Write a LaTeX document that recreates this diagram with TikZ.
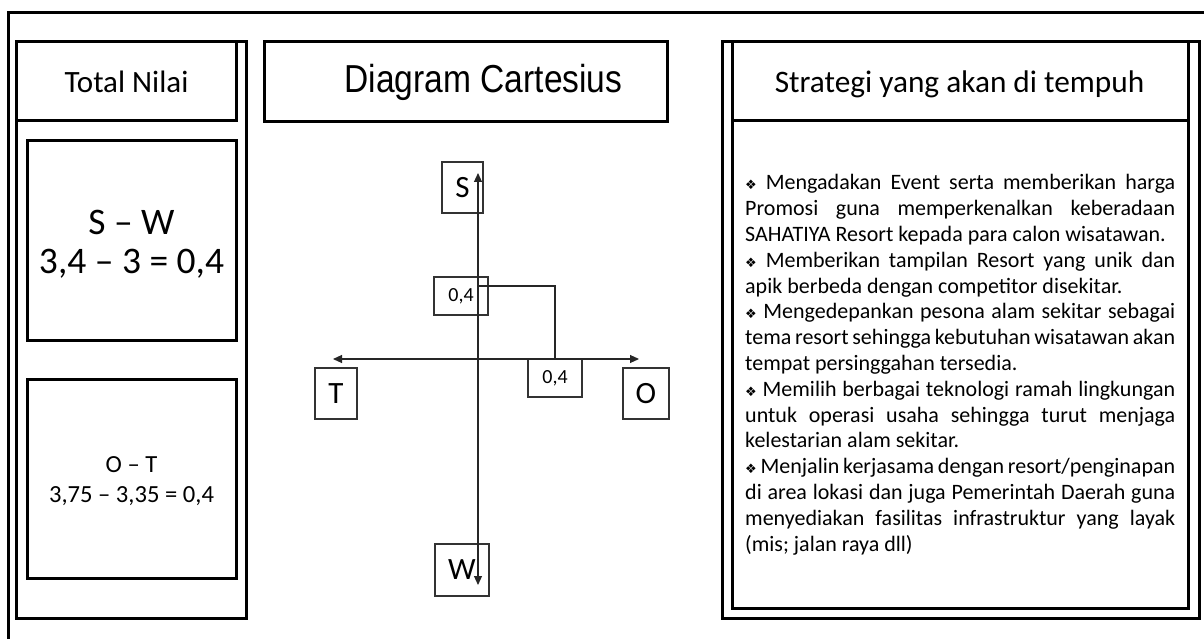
\documentclass[tikz,border=0pt]{standalone}
\usepackage{fontspec}
\setmainfont{Carlito}
\newfontfamily\agency[FakeStretch=0.86]{Liberation Sans}
\newfontfamily\dejavu{DejaVu Sans}
\usetikzlibrary{arrows.meta}
\newcommand{\bul}{{\dejavu\fontsize{13}{13}\selectfont ❖}}
\newcommand{\jl}[1]{\makebox[430pt][s]{\spaceskip=0pt\xspaceskip=0pt #1}}
\begin{document}
\begin{tikzpicture}[x=1pt,y=-1pt,
  frame/.style={draw=black,line width=3pt,inner sep=0pt},
  cbox/.style={draw=black!80,line width=1.2pt,inner sep=0pt},
  thinline/.style={draw=black!85,line width=1.1pt},
  ax/.style={draw=black!85,line width=1.1pt,{Triangle[length=9pt,width=8pt]}-{Triangle[length=9pt,width=8pt]}},
  lbl/.style={inner sep=0pt,align=center}
]
\useasboundingbox (0,0) rectangle (1204,639);
\fill[white] (0,0) rectangle (1204,639);
% outer frame (top and left edges visible)
\coordinate (ftr) at (1204,13);
\coordinate (ftl) at (8,13);
\coordinate (fbl) at (8,639);
\draw[frame] (ftr) -- (ftl) -- (fbl);

% left column
\node[frame,minimum width=230pt,minimum height=576pt] (leftcol) at (131,330) {};
\node[frame,minimum width=220pt,minimum height=79pt] (lefthead) at (126,81.5) {};
\node[lbl,font=\fontsize{31}{36}\selectfont,anchor=base] (lefttitle) at (126.5,92.5) {Total Nilai};
\node[frame,minimum width=209pt,minimum height=199pt] (swbox) at (131.5,240.5) {};
\node[lbl,font=\fontsize{37.5}{39}\selectfont] (swtext) at (131.5,244) {S -- W\\3,4 -- 3 = 0,4};
\node[frame,minimum width=209pt,minimum height=199pt] (otbox) at (131.5,478.5) {};
\node[lbl,font=\fontsize{24.6}{30}\selectfont] (ottext) at (131.5,481.5) {O -- T\\3,75 -- 3,35 = 0,4};

% middle title
\node[frame,minimum width=403pt,minimum height=80pt] (midhead) at (465.5,82) {};
\node[lbl,font=\agency\fontsize{39}{44}\selectfont,anchor=base] (midtitle) at (483.5,93) {Diagram Cartesius};

% right column
\node[frame,minimum width=477pt,minimum height=576pt] (rightcol) at (960.5,330) {};
\node[frame,minimum width=456pt,minimum height=566pt] (rightin) at (960,325) {};
\node[frame,minimum width=456pt,minimum height=79pt] (righthead) at (960,81.5) {};
\node[lbl,font=\fontsize{31.3}{36}\selectfont,anchor=base] (righttitle) at (959.5,93) {Strategi yang akan di tempuh};

\node[inner sep=0pt,text width=430pt,align=left,anchor=north west,
      font=\fontsize{22}{25.8}\selectfont] (strat) at (745,174.5) {\spaceskip=0pt\xspaceskip=0pt
\jl{\bul{} Mengadakan Event serta memberikan harga}\\
\jl{Promosi guna memperkenalkan keberadaan}\\
SAHATIYA Resort kepada para calon wisatawan.\\
\jl{\bul{} Memberikan tampilan Resort yang unik dan}\\
apik berbeda dengan competitor disekitar.\\
\jl{\bul{} Mengedepankan pesona alam sekitar sebagai}\\
\jl{tema resort sehingga kebutuhan wisatawan akan}\\
tempat persinggahan tersedia.\\
\jl{\bul{} Memilih berbagai teknologi ramah lingkungan}\\
\jl{untuk operasi usaha sehingga turut menjaga}\\
kelestarian alam sekitar.\\
\jl{\bul{} Menjalin kerjasama dengan resort/penginapan}\\
\jl{di area lokasi dan juga Pemerintah Daerah guna}\\
\jl{menyediakan fasilitas infrastruktur yang layak}\\
(mis; jalan raya dll)};

% cartesian diagram
\node[cbox,minimum width=41pt,minimum height=51pt,font=\fontsize{31}{31}\selectfont] (S) at (462.5,187.5) {S};
\node[cbox,minimum width=54pt,minimum height=52pt,font=\fontsize{31}{31}\selectfont] (W) at (462,570) {W};
\node[cbox,minimum width=42pt,minimum height=51pt,font=\fontsize{31}{31}\selectfont] (T) at (336,393.5) {T};
\node[cbox,minimum width=46pt,minimum height=51pt,font=\fontsize{31}{31}\selectfont] (O) at (646,393.5) {O};
\node[cbox,minimum width=54pt,minimum height=38pt,font=\fontsize{20}{20}\selectfont] (up) at (461,296) {0,4};
\node[cbox,minimum width=54pt,minimum height=38pt,font=\fontsize{20}{20}\selectfont] (low) at (555,378) {0,4};

\coordinate (ytop) at (478,173);
\coordinate (ybot) at (478,585);
\coordinate (xl) at (333,359);
\coordinate (xr) at (639,359);
\coordinate (q) at (478,286);
\draw[ax] (ybot) -- (ytop);
\draw[ax] (xl) -- (xr);
\draw[thinline] (q) -| (low.north);
\end{tikzpicture}
\end{document}
